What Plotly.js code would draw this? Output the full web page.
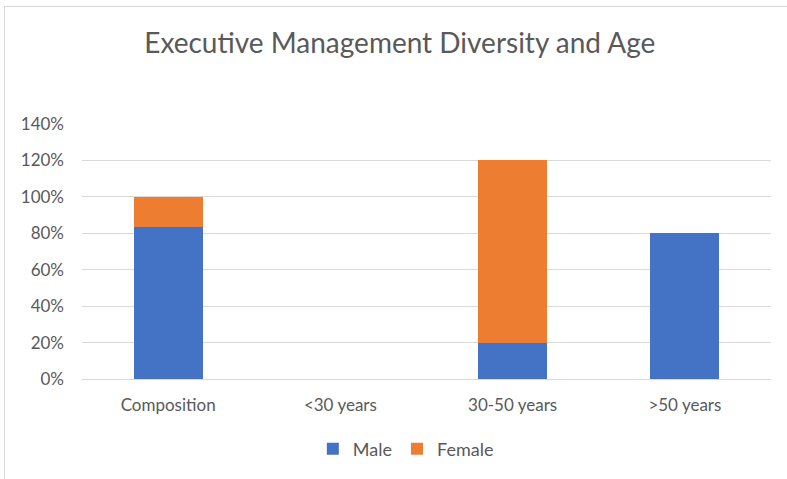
<!DOCTYPE html>
<html>
<head>
<meta charset="utf-8">
<script src="https://cdn.plot.ly/plotly-3.0.1.min.js"></script>
<style>
html,body{margin:0;padding:0;background:#fff;}
#wrap{position:relative;width:787px;height:479px;overflow:hidden;}
#frame{position:absolute;left:4px;top:6px;width:800px;height:480px;border-left:1px solid #d9d9d9;border-top:1px solid #d9d9d9;pointer-events:none;}
#chart{position:absolute;left:0;top:0;width:787px;height:479px;}
</style>
</head>
<body>
<div id="wrap">
<div id="chart"></div>
<div id="frame"></div>
</div>
<script>
const categories = ["Composition", "<30 years", "30-50 years", ">50 years"];
const maleValues = [0.833, 0, 0.20, 0.80];
const femaleValues = [0.167, 0, 1.00, 0];
const yTickValues = [0, 0.2, 0.4, 0.6, 0.8, 1.0, 1.2, 1.4];

const font = "Lato, 'Open Sans', sans-serif";
const textColor = "#595959";

const traces = [
  {type: "bar", name: "Male", x: categories, y: maleValues,
   marker: {color: "#4472c4"}, hoverinfo: "none"},
  {type: "bar", name: "Female", x: categories, y: femaleValues,
   marker: {color: "#ed7d31"}, hoverinfo: "none"}
];

const layout = {
  width: 787, height: 479,
  paper_bgcolor: "rgba(0,0,0,0)", plot_bgcolor: "#fff",
  barmode: "stack",
  bargap: 0.6,
  margin: {l: 82, r: 16, t: 124, b: 100},
  title: {text: "Executive Management Diversity and Age",
          font: {family: font, size: 28, color: textColor},
          x: 0.508, xanchor: "center", xref: "container", y: 0.91, yanchor: "middle", yref: "container"},
  xaxis: {tickfont: {family: font, size: 17, color: textColor},
          showgrid: false, showline: false, ticks: "", fixedrange: true,
          ticklabelstandoff: 14},
  yaxis: {range: [0, 1.4], tickvals: yTickValues, tickformat: ".0%",
          tickfont: {family: font, size: 17, color: textColor},
          gridcolor: "#d9d9d9", gridwidth: 1, zeroline: true, zerolinecolor: "#d9d9d9",
          showline: false, ticks: "", ticklen: 0, fixedrange: true,
          ticklabelstandoff: 17},
  legend: {orientation: "h", x: 0.47, xanchor: "center", y: -0.275, yanchor: "middle",
           font: {family: font, size: 18, color: textColor}, traceorder: "normal"},
  showlegend: true
};

Plotly.newPlot("chart", traces, layout, {displayModeBar: false, staticPlot: true});
</script>
</body>
</html>
